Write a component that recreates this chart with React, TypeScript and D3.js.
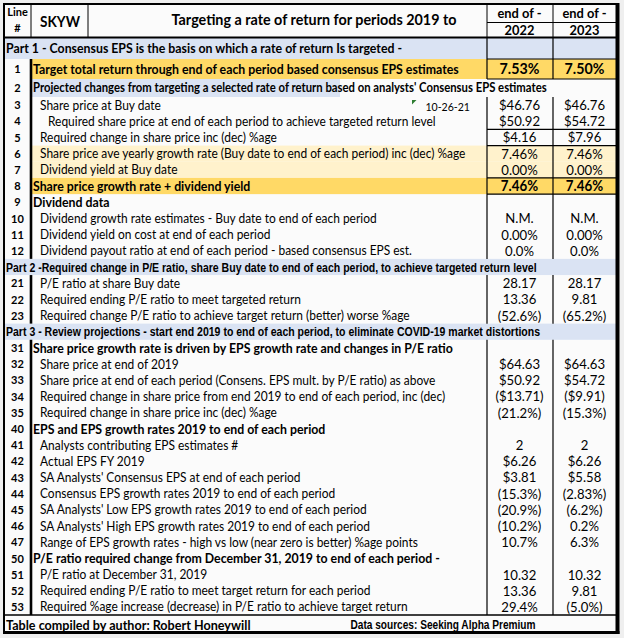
import * as d3 from 'd3';

// table rows (top to bottom)
const lineNos = ['', '1', '2', '3', '4', '5', '6', '7', '8', '9', '10', '11', '12', '', '21', '22', '23', '', '31', '32', '33', '34', '35', '40', '41', '42', '43', '44', '45', '46', '47', '50', '51', '52', '53'];

const labels = [
  'Part 1 - Consensus EPS is the basis on which a rate of return Is targeted -',
  'Target total return through end of each period based consensus EPS estimates',
  "Projected changes from targeting a selected rate of return based on analysts' Consensus EPS estimates",
  'Share price at Buy date',
  'Required share price at end of each period to achieve targeted return level',
  'Required change in share price inc (dec) %age',
  'Share price ave yearly growth rate (Buy date to end of each period) inc (dec) %age',
  'Dividend yield at Buy date',
  'Share price growth rate + dividend yield',
  'Dividend data',
  'Dividend growth rate estimates  - Buy date to end of each period',
  'Dividend yield on cost at end of each period',
  'Dividend payout ratio at end of each period - based consensus EPS est.',
  'Part 2 -Required change in P/E ratio, share Buy date to end of each period, to achieve targeted return level',
  'P/E ratio at share Buy date',
  'Required ending P/E ratio to meet targeted return',
  'Required change P/E ratio to achieve target return (better) worse %age',
  'Part 3 - Review projections - start end 2019 to end of each period, to eliminate COVID-19 market distortions',
  'Share price growth rate is driven by EPS growth rate and changes in P/E ratio',
  'Share price at end of 2019',
  'Share price at end of each period (Consens. EPS mult. by P/E ratio) as above',
  'Required change in share price from end 2019 to end of each period, inc (dec)',
  'Required change in share price inc (dec) %age',
  'EPS and EPS growth rates 2019 to end of each period',
  'Analysts contributing EPS estimates #',
  'Actual EPS FY 2019',
  "SA Analysts' Consensus EPS at end of each period",
  'Consensus EPS growth rates 2019 to end of each period',
  "SA Analysts' Low EPS growth rates 2019 to end of each period",
  "SA Analysts' High EPS growth rates 2019 to end of each period",
  'Range of EPS growth rates - high vs low (near zero is better) %age points',
  'P/E ratio required change from December 31, 2019 to end of each period -',
  'P/E ratio at December 31, 2019',
  'Required ending P/E ratio to meet target return for each period',
  'Required %age increase (decrease) in P/E ratio to achieve target return',
];

const end2022 = ['', '7.53%', '', '$46.76', '$50.92', '$4.16', '7.46%', '0.00%', '7.46%', '', 'N.M.', '0.00%', '0.0%', '', '28.17', '13.36', '(52.6%)', '', '', '$64.63', '$50.92', '($13.71)', '(21.2%)', '', '2', '$6.26', '$3.81', '(15.3%)', '(20.9%)', '(10.2%)', '10.7%', '', '10.32', '13.36', '29.4%'];
const end2023 = ['', '7.50%', '', '$46.76', '$54.72', '$7.96', '7.46%', '0.00%', '7.46%', '', 'N.M.', '0.00%', '0.0%', '', '28.17', '9.81', '(65.2%)', '', '', '$64.63', '$54.72', '($9.91)', '(15.3%)', '', '2', '$6.26', '$5.58', '(2.83%)', '(6.2%)', '0.2%', '6.3%', '', '10.32', '9.81', '(5.0%)'];

const periods = ['2022', '2023'];

// row look: part1, partA (arial band), hl (orange), sub (bold blue), bold, plain, ind (indented), yel
const kinds = ['part1', 'hl', 'sub', 'plain', 'ind', 'plain', 'yel', 'yel', 'hl', 'bold', 'plain', 'plain', 'plain', 'partA', 'plain', 'plain', 'plain', 'partA', 'bold', 'plain', 'plain', 'plain', 'plain', 'bold', 'plain', 'plain', 'plain', 'plain', 'plain', 'plain', 'plain', 'bold', 'plain', 'plain', 'plain'];

const LATO = 'Lato, "Open Sans", sans-serif';
const ARIAL = '"Liberation Sans", Arial, sans-serif';
const SX = 0.92;
const SXA = 0.81;
const BLUE = '#dae3f3';
const ORANGE = '#ffd966';
const YELLOW = '#fff2cc';

function T({ x, y, size, bold = false, font = LATO, sx = SX, anchor = 'start', children }: any) {
  return (
    <text
      transform={`translate(${x},${y}) scale(${sx},1)`}
      fontFamily={font}
      fontSize={size}
      fontWeight={bold ? 'bold' : 'normal'}
      textAnchor={anchor}
      dy="0.35em"
      fill="#000"
    >
      {children}
    </text>
  );
}

export default function App() {
  const W = 624;
  const H = 638;
  const xL = 4, xLine = 31, xSky = 88, xR = 617;

  const heights = lineNos.map((_, i) => (i === 0 ? 21 : i === 1 ? 20 : i === 2 ? 18 : 518 / 32));
  const tops = Array.from(d3.cumsum([38, ...heights]));
  tops.unshift(0);
  const rowTop = (i: number) => tops[i + 1];
  const rowMid = (i: number) => tops[i + 1] + heights[i] / 2;

  const x = d3.scaleBand().domain(periods).range([487, xR]);
  const cx = (p: string) => (x(p) as number) + x.bandwidth() / 2;

  const bandRows = kinds.map((k, i) => ({ k, i })).filter(d => d.k === 'partA');

  // vertical segments for body, broken at arial bands
  const bodyTop = 38, bodyBottom = 615;
  const segs = (start: number, skip: number[]) => {
    const out: [number, number][] = [];
    let y0 = start;
    lineNos.forEach((_, i) => {
      if (skip.includes(i)) {
        if (rowTop(i) > y0) out.push([y0, rowTop(i)]);
        y0 = rowTop(i) + heights[i];
      }
    });
    out.push([y0, bodyBottom]);
    return out;
  };
  const skipVal = [2, ...bandRows.map(b => b.i)];
  const skipLine = bandRows.map(b => b.i);

  const valLines = [rowTop(1), rowTop(2), rowTop(5), rowTop(6), rowTop(8), rowTop(9)];

  return (
    <svg width={W} height={H} style={{ position: 'absolute', left: 0, top: 0 }}>
      <rect width={W} height={H} fill="#efefef" />
      <rect x={xL} y={4} width={xR - xL} height={629} fill="#fbfbfb" />

      {/* row fills */}
      {kinds.map((k, i) => {
        const y = rowTop(i), h = heights[i];
        if (k === 'part1' || k === 'partA') return <rect key={i} x={xL} y={y} width={xR - xL} height={h} fill={BLUE} />;
        if (k === 'hl') return <rect key={i} x={xLine} y={y} width={xR - xLine} height={h} fill={ORANGE} />;
        if (k === 'yel') return <rect key={i} x={xLine} y={y} width={xR - xLine} height={h} fill={YELLOW} />;
        if (k === 'sub') return <rect key={i} x={xLine} y={y} width={340 - xLine} height={h} fill={BLUE} />;
        return null;
      })}

      {/* grid */}
      <g stroke="#000" strokeWidth={1}>
        <line x1={xLine} x2={xLine} y1={4} y2={37} />
        <line x1={xSky} x2={xSky} y1={4} y2={37} />
        <line x1={487} x2={487} y1={4} y2={37} />
        <line x1={553} x2={553} y1={4} y2={37} />
        <line x1={487} x2={xR} y1={22.5} y2={22.5} />
        {segs(bodyTop, skipVal).map(([a, b], j) => (
          <g key={j}>
            <line x1={487} x2={487} y1={a} y2={b} strokeWidth={1.2} />
            <line x1={553} x2={553} y1={a} y2={b} strokeWidth={1.2} />
          </g>
        ))}
        {segs(rowTop(1), skipLine).map(([a, b], j) => (
          <line key={j} x1={xLine} x2={xLine} y1={a} y2={b} strokeWidth={2.6} />
        ))}
        {valLines.map((y, j) => (
          <line key={j} x1={487} x2={xR} y1={y} y2={y} strokeWidth={1.2} />
        ))}
        <line x1={xL} x2={xR} y1={615} y2={615} strokeWidth={1.4} />
        <line x1={xL} x2={xR} y1={37.5} y2={37.5} strokeWidth={2} />
      </g>

      {/* header text */}
      <T x={17.5} y={12} size={12} bold anchor="middle">Line</T>
      <T x={17.5} y={28} size={12} bold anchor="middle">#</T>
      <T x={60} y={22} size={14.8} bold anchor="middle">SKYW</T>
      <T x={314} y={20} size={15.6} bold anchor="middle">Targeting a rate of return for periods 2019 to</T>
      {periods.map(p => (
        <g key={p}>
          <T x={cx(p)} y={13} size={14} bold anchor="middle">end of -</T>
          <T x={cx(p)} y={30} size={14} bold anchor="middle">{p}</T>
        </g>
      ))}

      {/* body text */}
      {labels.map((lab, i) => {
        const k = kinds[i];
        const y = rowMid(i);
        const bold = k === 'part1' || k === 'hl' || k === 'sub' || k === 'bold';
        const lx = k === 'part1' || k === 'partA' ? 6 : bold ? 33 : k === 'ind' ? 48 : 40;
        return (
          <g key={i}>
            {lineNos[i] && <T x={17.5} y={y} size={12} bold anchor="middle">{lineNos[i]}</T>}
            {k === 'partA' ? (
              <T x={lx} y={y} size={13} bold font={ARIAL} sx={SXA}>{lab}</T>
            ) : (
              <T x={lx} y={y} size={bold ? (i === 2 ? 12.3 : 13.4) : 13} bold={bold}>{lab}</T>
            )}
            {periods.map((p, j) => (
              <T key={p} x={cx(p)} y={y} size={k === 'hl' ? (i === 1 ? 15.5 : 14.5) : 14.3} bold={k === 'hl'} anchor="middle">
                {(j === 0 ? end2022 : end2023)[i]}
              </T>
            ))}
          </g>
        );
      })}

      {/* buy date note */}
      <polygon points="412,100 416.5,100 412,104.5" fill="#2e7d32" />
      <T x={470} y={rowMid(3) + 1.5} size={11.5} anchor="end">10-26-21</T>

      {/* footer */}
      <T x={6} y={625} size={13.7} bold>Table compiled by author: Robert Honeywill</T>
      <T x={443} y={625} size={12.5} bold font={ARIAL} sx={SXA} anchor="middle">Data sources: Seeking Alpha Premium</T>

      {/* outer border */}
      <g stroke="#000" fill="none">
        <line x1={4} x2={4} y1={3} y2={634} strokeWidth={2} />
        <line x1={3} x2={619} y1={4} y2={4} strokeWidth={2} />
        <line x1={617.5} x2={617.5} y1={3} y2={634} strokeWidth={4} />
        <line x1={3} x2={619.5} y1={632.5} y2={632.5} strokeWidth={3} />
      </g>
    </svg>
  );
}
